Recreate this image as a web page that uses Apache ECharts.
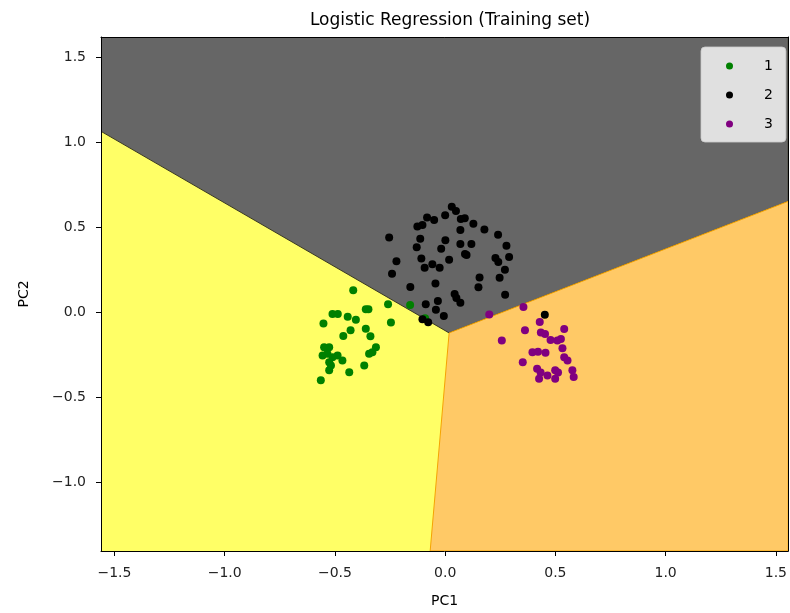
<!DOCTYPE html>
<html>
<head>
<meta charset="utf-8">
<title>Logistic Regression (Training set)</title>
<script src="https://cdn.jsdelivr.net/npm/echarts@6/dist/echarts.min.js"></script>
<style>
  html, body { margin: 0; padding: 0; background: #ffffff; }
  #chart { width: 790px; height: 613px; }
</style>
</head>
<body>
<div id="chart"></div>
<script>
// Plot extents (PC1 / PC2 space)
const pc1Range = [-1.561, 1.556];
const pc2Range = [-1.403, 1.621];

// Decision boundary vertices of the three predicted regions
const boundaryJunction = [0.018, -0.12];
const boundaryLeftEdge = [-1.561, 1.066];
const boundaryRightEdge = [1.556, 0.654];
const boundaryBottomEdge = [-0.068, -1.403];

const regionColors = ['#ffff66', '#666666', '#ffc966'];
const regionStrokes = ['#ffff66', '#3a3a22', '#f5a300'];

// Tick values
const pc1Ticks = [-1.5, -1.0, -0.5, 0.0, 0.5, 1.0, 1.5];
const pc2Ticks = [-1.0, -0.5, 0.0, 0.5, 1.0, 1.5];

// Class labels and colours
const classNames = ['1', '2', '3'];
const classColors = ['#008000', '#000000', '#800080'];

// Training samples per class: [PC1, PC2]
const class1Points = [
  [-0.417, 0.131], [-0.259, 0.048], [-0.159, 0.044], [-0.511, -0.008], [-0.487, -0.008],
  [-0.442, -0.025], [-0.405, -0.043], [-0.360, 0.019], [-0.348, 0.019], [-0.552, -0.064],
  [-0.246, -0.058], [-0.429, -0.105], [-0.360, -0.095], [-0.462, -0.138], [-0.339, -0.139],
  [-0.314, -0.204], [-0.330, -0.234], [-0.345, -0.243], [-0.549, -0.204], [-0.526, -0.204],
  [-0.556, -0.253], [-0.534, -0.243], [-0.511, -0.263], [-0.488, -0.253], [-0.466, -0.282],
  [-0.526, -0.292], [-0.518, -0.311], [-0.526, -0.340], [-0.367, -0.311], [-0.435, -0.352],
  [-0.564, -0.399], [-0.091, -0.033]
];
const class2Points = [
  [0.030, 0.623], [0.049, 0.597], [-0.082, 0.559], [-0.050, 0.545], [0.000, 0.572],
  [-0.126, 0.506], [-0.103, 0.515], [0.071, 0.550], [0.089, 0.555], [0.128, 0.522],
  [0.069, 0.486], [0.178, 0.489], [0.240, 0.457], [-0.254, 0.442], [-0.113, 0.434],
  [0.001, 0.425], [-0.129, 0.384], [-0.018, 0.375], [0.069, 0.403], [0.119, 0.403],
  [0.278, 0.393], [0.090, 0.344], [0.097, 0.339], [0.290, 0.326], [0.228, 0.321],
  [0.241, 0.297], [-0.108, 0.318], [0.018, 0.311], [-0.221, 0.302], [-0.058, 0.284],
  [-0.093, 0.263], [-0.025, 0.263], [0.271, 0.251], [-0.241, 0.228], [0.247, 0.204],
  [0.156, 0.206], [-0.044, 0.171], [0.151, 0.149], [-0.158, 0.150], [0.043, 0.109],
  [0.051, 0.085], [0.069, 0.058], [0.272, 0.105], [-0.033, 0.068], [-0.088, 0.048],
  [-0.042, 0.016], [-0.103, -0.039], [-0.077, -0.057], [-0.006, -0.020], [0.452, -0.013]
];
const class3Points = [
  [0.200, -0.012], [0.355, 0.033], [0.429, -0.055], [0.362, -0.105], [0.434, -0.118],
  [0.453, -0.127], [0.540, -0.097], [0.257, -0.165], [0.478, -0.162], [0.509, -0.165],
  [0.525, -0.156], [0.532, -0.210], [0.540, -0.263], [0.555, -0.282], [0.396, -0.234],
  [0.421, -0.231], [0.455, -0.236], [0.352, -0.292], [0.417, -0.331], [0.433, -0.353],
  [0.426, -0.389], [0.464, -0.370], [0.499, -0.340], [0.512, -0.353], [0.499, -0.389],
  [0.577, -0.340], [0.583, -0.379]
];

// Region polygons built from the boundary vertices and the plot extents
const [x0, x1] = pc1Range;
const [y0, y1] = pc2Range;
const regionPolygons = [
  [[x0, y0], boundaryBottomEdge, boundaryJunction, boundaryLeftEdge],
  [boundaryLeftEdge, boundaryJunction, boundaryRightEdge, [x1, y1], [x0, y1]],
  [boundaryJunction, boundaryBottomEdge, [x1, y0], boundaryRightEdge]
];

const fontFamily = 'DejaVu Sans';
const tickFormat = v => (v < 0 ? '\u2212' : '') + Math.abs(v).toFixed(1);

const chart = echarts.init(document.getElementById('chart'), null, { renderer: 'canvas' });

const scatterSeries = [class1Points, class2Points, class3Points].map((pts, i) => ({
  type: 'scatter',
  name: classNames[i],
  data: pts,
  symbol: 'circle',
  symbolSize: 8,
  itemStyle: { color: classColors[i], opacity: 1 },
  z: 4
}));

chart.setOption({
  animation: false,
  backgroundColor: '#ffffff',
  textStyle: { fontFamily },
  title: {
    text: 'Logistic Regression (Training set)',
    left: 445,
    textAlign: 'center',
    top: 7,
    textStyle: { fontFamily, fontSize: 17, fontWeight: 'normal', color: '#000000' }
  },
  legend: {
    orient: 'vertical',
    left: 701,
    top: 47,
    data: classNames,
    icon: 'circle',
    itemWidth: 7,
    itemHeight: 7,
    itemGap: 13,
    padding: [11, 13, 10, 25],
    backgroundColor: 'rgba(255,255,255,0.8)',
    borderColor: 'rgba(204,204,204,0.8)',
    borderWidth: 1,
    borderRadius: 4,
    textStyle: { fontFamily, fontSize: 14, color: '#000000', lineHeight: 16, padding: [0, 0, 0, 26] },
    z: 6
  },
  grid: { left: 101, right: 1, top: 37, bottom: 58, containLabel: false },
  xAxis: [
    {
      type: 'value', min: pc1Range[0], max: pc1Range[1], position: 'bottom',
      name: 'PC1', nameLocation: 'middle', nameGap: 43,
      nameTextStyle: { fontFamily, fontSize: 14, color: '#000000' },
      splitLine: { show: false },
      axisLine: { show: true, onZero: false, lineStyle: { color: '#000000', width: 1 } },
      axisTick: { show: true, length: 5, customValues: pc1Ticks, lineStyle: { color: '#000000' } },
      axisLabel: { customValues: pc1Ticks, formatter: tickFormat, margin: 15, fontFamily, fontSize: 14, color: '#222222' },
      z: 5
    },
    {
      type: 'value', min: pc1Range[0], max: pc1Range[1], position: 'top',
      splitLine: { show: false },
      axisLine: { show: true, onZero: false, lineStyle: { color: '#000000', width: 1 } },
      axisTick: { show: false }, axisLabel: { show: false },
      z: 5
    }
  ],
  yAxis: [
    {
      type: 'value', min: pc2Range[0], max: pc2Range[1], position: 'left',
      name: 'PC2', nameLocation: 'middle', nameGap: 70, nameRotate: 90,
      nameTextStyle: { fontFamily, fontSize: 14, color: '#000000' },
      splitLine: { show: false },
      axisLine: { show: true, onZero: false, lineStyle: { color: '#000000', width: 1 } },
      axisTick: { show: true, length: 5, customValues: pc2Ticks, lineStyle: { color: '#000000' } },
      axisLabel: { customValues: pc2Ticks, formatter: tickFormat, margin: 15, fontFamily, fontSize: 14, color: '#222222' },
      z: 5
    },
    {
      type: 'value', min: pc2Range[0], max: pc2Range[1], position: 'right',
      splitLine: { show: false },
      axisLine: { show: true, onZero: false, lineStyle: { color: '#000000', width: 1 } },
      axisTick: { show: false }, axisLabel: { show: false },
      z: 5
    }
  ],
  series: [
    {
      type: 'custom',
      name: 'regions',
      data: regionPolygons.map((_, i) => i),
      clip: true,
      silent: true,
      z: 1,
      renderItem: (params, api) => {
        const idx = params.dataIndex;
        const pts = regionPolygons[idx].map(p => api.coord(p));
        return {
          type: 'polygon',
          shape: { points: pts },
          style: { fill: regionColors[idx], stroke: regionStrokes[idx], lineWidth: 1 }
        };
      }
    },
    ...scatterSeries
  ]
});
</script>
</body>
</html>
